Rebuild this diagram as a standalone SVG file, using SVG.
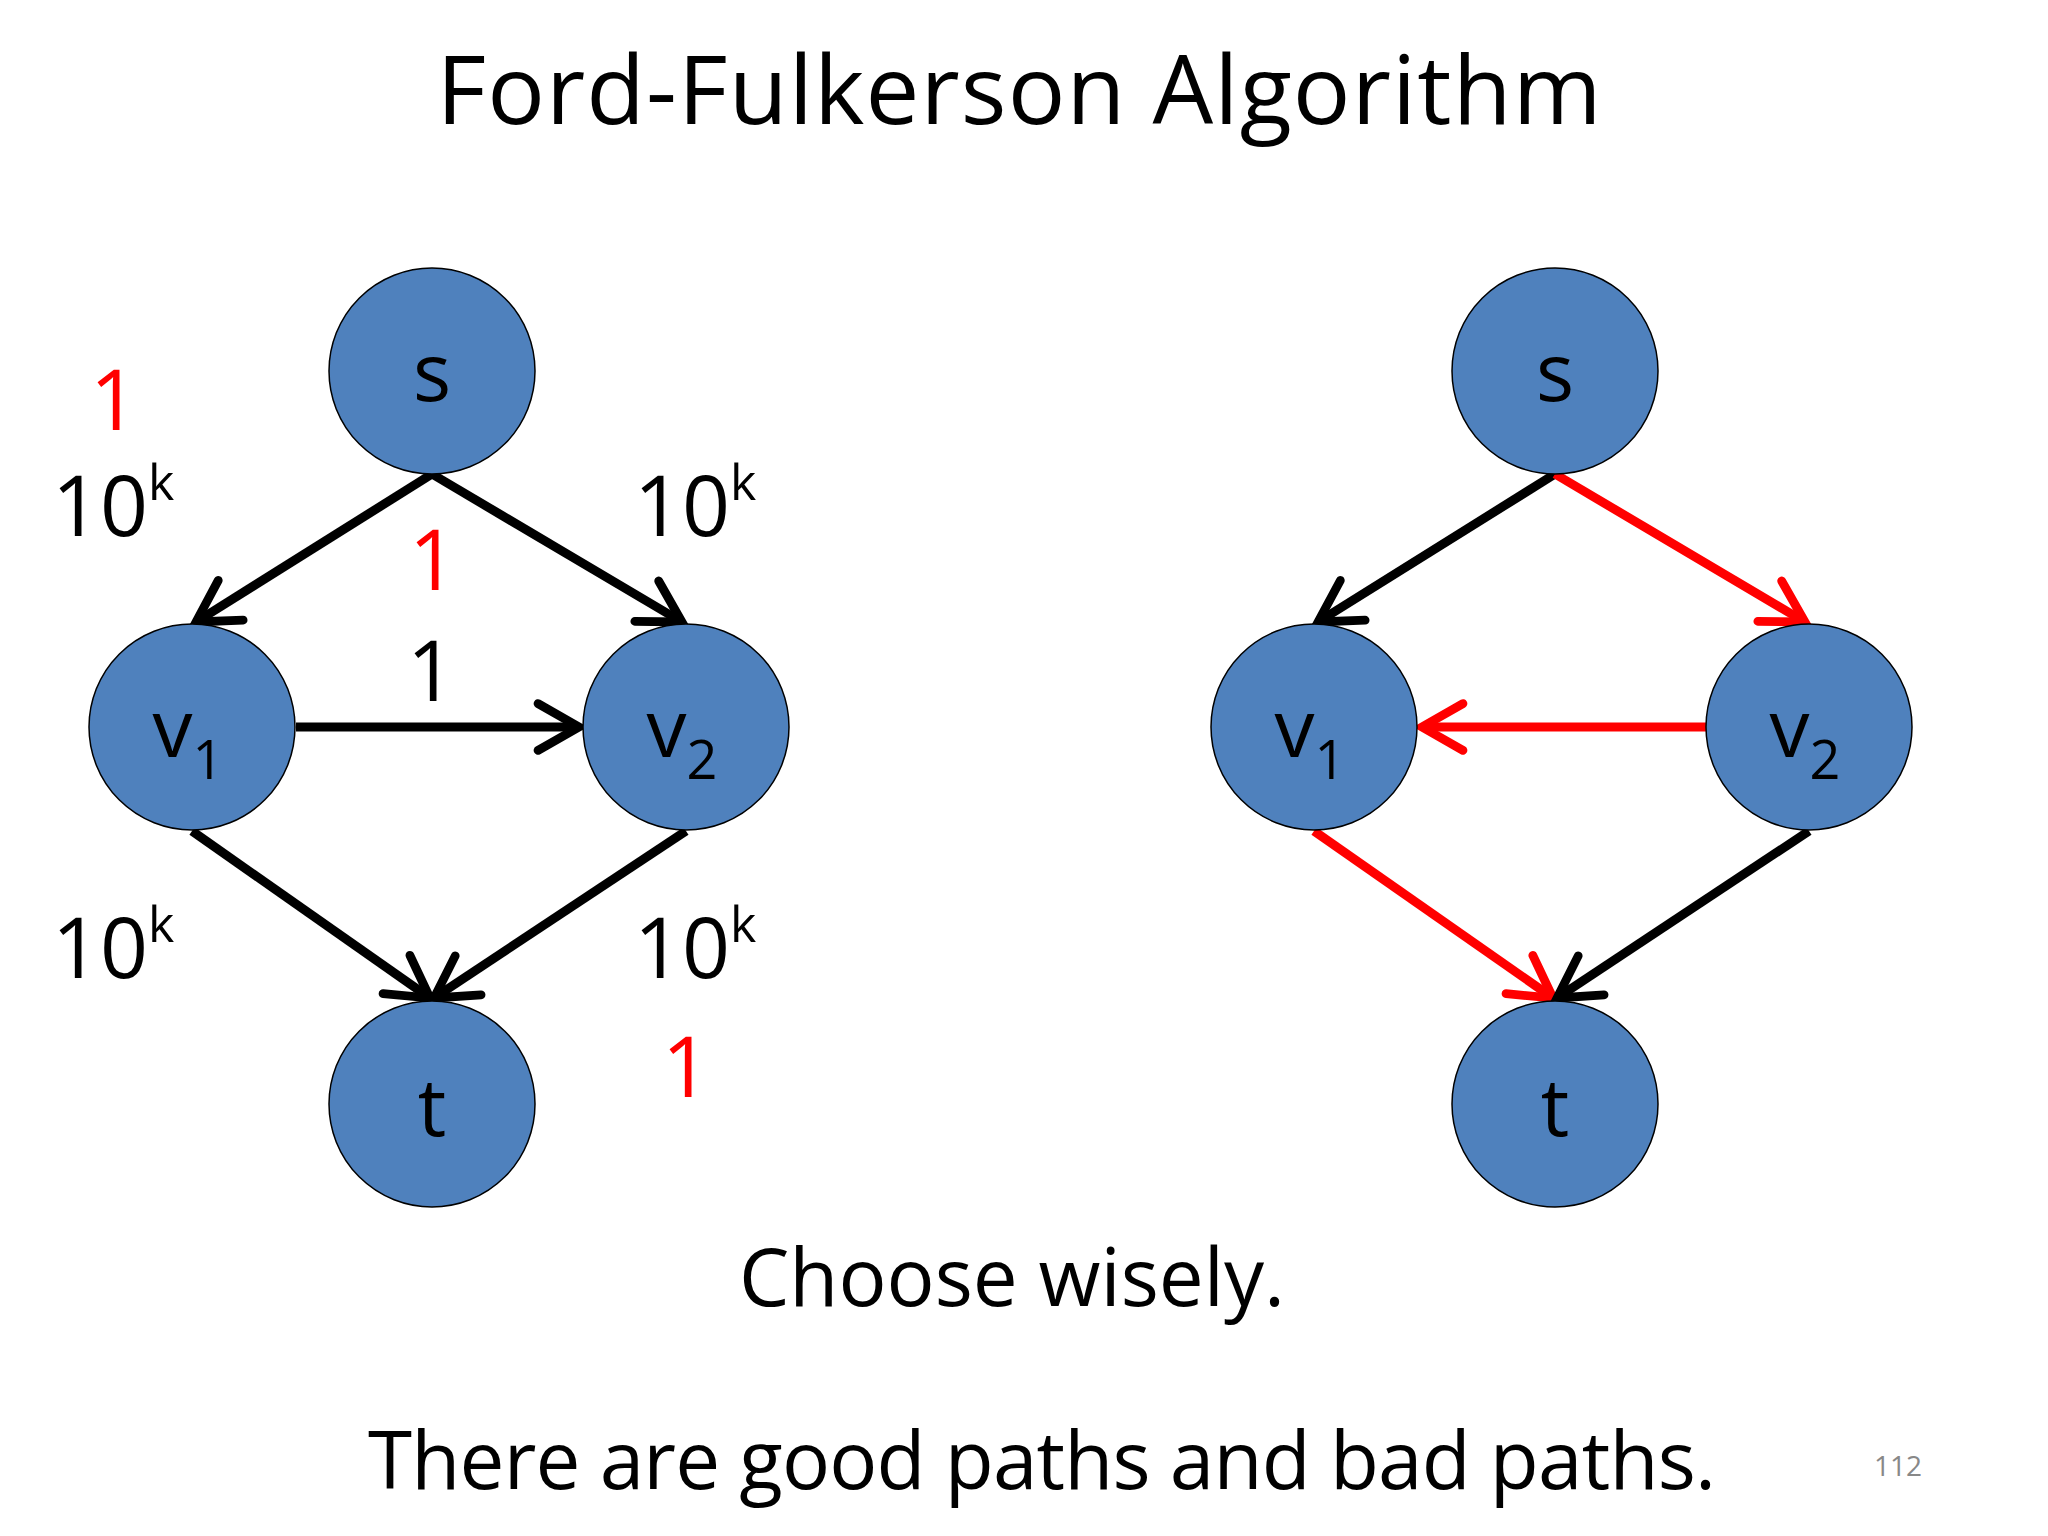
<svg xmlns="http://www.w3.org/2000/svg" width="2048" height="1536" viewBox="0 0 2048 1536">
<style>
.n{fill:#4f81bd;stroke:#000;stroke-width:1.5}
.t{font-family:"Open Sans","Liberation Sans",sans-serif;fill:#000}
.nl{font-family:"Open Sans","Liberation Sans",sans-serif;font-size:80px;text-anchor:middle;fill:#000}
.e{stroke:#000;stroke-width:9;fill:none}
.r{stroke:#f00}
.lb{font-family:"Open Sans","Liberation Sans",sans-serif;font-size:84px;fill:#000}
.red{fill:#f00}
</style>
<defs>
<marker id="ab" viewBox="0 0 20 20" refX="17" refY="10" markerWidth="6.5" markerHeight="6.5" markerUnits="strokeWidth" orient="auto"><path d="M3,2 L17,10 L3,18" fill="none" stroke="#000" stroke-width="3" stroke-linecap="round"/></marker>
<marker id="ar" viewBox="0 0 20 20" refX="17" refY="10" markerWidth="6.5" markerHeight="6.5" markerUnits="strokeWidth" orient="auto"><path d="M3,2 L17,10 L3,18" fill="none" stroke="#f00" stroke-width="3" stroke-linecap="round"/></marker>
</defs>
<rect width="2048" height="1536" fill="#fff"/>
<text class="t" x="1019" y="124" font-size="96" text-anchor="middle" textLength="1165">Ford-Fulkerson Algorithm</text>
<g id="connectors">
<line class="e" x1="432" y1="474" x2="196" y2="622" marker-end="url(#ab)"/>
<line class="e" x1="432" y1="474" x2="682" y2="622" marker-end="url(#ab)"/>
<line class="e" x1="296" y1="727" x2="579" y2="727" marker-end="url(#ab)"/>
<line class="e" x1="192" y1="831" x2="430" y2="998" marker-end="url(#ab)"/>
<line class="e" x1="686" y1="831" x2="434" y2="998" marker-end="url(#ab)"/>
<line class="e" x1="1555" y1="474" x2="1318" y2="622" marker-end="url(#ab)"/>
<line class="e r" x1="1555" y1="474" x2="1805" y2="622" marker-end="url(#ar)"/>
<line class="e r" x1="1706" y1="727" x2="1422" y2="727" marker-end="url(#ar)"/>
<line class="e r" x1="1314" y1="831" x2="1553" y2="998" marker-end="url(#ar)"/>
<line class="e" x1="1809" y1="831" x2="1557" y2="998" marker-end="url(#ab)"/>
</g>
<g id="s1"><circle class="n" cx="432" cy="371" r="103"/><text class="nl" x="432" y="401">s</text></g>
<g id="v1a"><circle class="n" cx="192" cy="727" r="103"/><text class="nl" x="188" y="757">v<tspan font-size="54" dy="22">1</tspan></text></g>
<g id="v2a"><circle class="n" cx="686" cy="727" r="103"/><text class="nl" x="682" y="757">v<tspan font-size="54" dy="22">2</tspan></text></g>
<g id="t1"><circle class="n" cx="432" cy="1104" r="103"/><text class="nl" x="432" y="1136">t</text></g>
<g id="s2"><circle class="n" cx="1555" cy="371" r="103"/><text class="nl" x="1555" y="401">s</text></g>
<g id="v1b"><circle class="n" cx="1314" cy="727" r="103"/><text class="nl" x="1310" y="757">v<tspan font-size="54" dy="22">1</tspan></text></g>
<g id="v2b"><circle class="n" cx="1809" cy="727" r="103"/><text class="nl" x="1805" y="757">v<tspan font-size="54" dy="22">2</tspan></text></g>
<g id="t2"><circle class="n" cx="1555" cy="1104" r="103"/><text class="nl" x="1555" y="1136">t</text></g>
<g id="labels">
<text class="lb red" x="90" y="430">1</text>
<text class="lb" x="52" y="536">10<tspan font-size="50" dy="-36">k</tspan></text>
<text class="lb" x="634" y="536">10<tspan font-size="50" dy="-36">k</tspan></text>
<text class="lb red" x="409" y="590">1</text>
<text class="lb" x="407" y="701">1</text>
<text class="lb" x="52" y="978">10<tspan font-size="50" dy="-36">k</tspan></text>
<text class="lb" x="634" y="978">10<tspan font-size="50" dy="-36">k</tspan></text>
<text class="lb red" x="662" y="1097">1</text>
</g>
<text class="t" x="1012" y="1306" font-size="80" text-anchor="middle">Choose wisely.</text>
<text class="t" x="1042" y="1489" font-size="80" text-anchor="middle" textLength="1348">There are good paths and bad paths.</text>
<text class="t" x="1898" y="1476" font-size="28" text-anchor="middle" style="fill:#888">112</text>
</svg>
